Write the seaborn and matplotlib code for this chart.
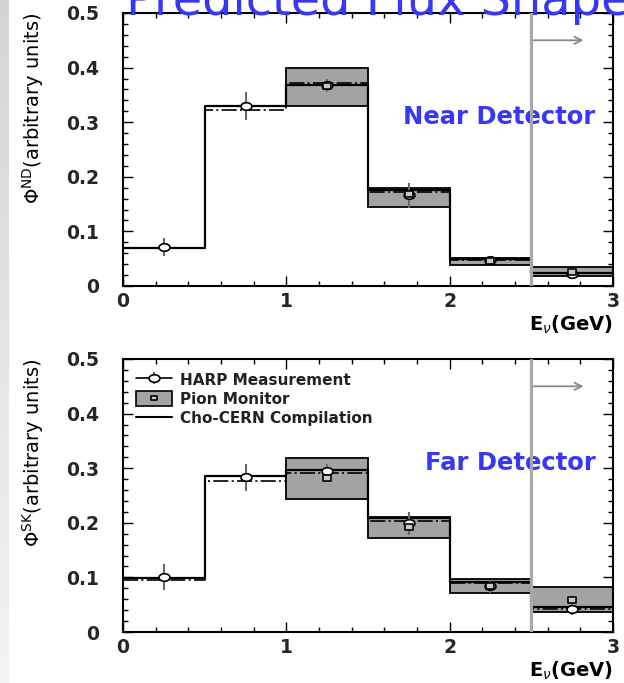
import numpy as np
import pandas as pd
import matplotlib
matplotlib.use("Agg")
import matplotlib.pyplot as plt
import seaborn as sns
from matplotlib.path import Path
from matplotlib.lines import Line2D
from matplotlib.patches import Patch
from matplotlib.legend_handler import HandlerTuple
from matplotlib.ticker import MultipleLocator

# ---------------------------------------------------------------- data
bin_edges = [0.0, 0.5, 1.0, 1.5, 2.0, 2.5, 3.0]

# Near detector (ND)
nd_harp = [0.071, 0.330, 0.368, 0.166, 0.047, 0.022]
nd_harp_err = [0.016, 0.026, 0.012, 0.023, 0.008, 0.006]
nd_harp_flux = [0.069, 0.322, 0.372, 0.172, 0.048, 0.023]
nd_cho = [0.070, 0.330, 0.369, 0.176, 0.050, 0.024]
nd_pion = [np.nan, np.nan, 0.366, 0.168, 0.046, 0.026]
nd_pion_lo = [np.nan, np.nan, 0.330, 0.145, 0.039, 0.018]
nd_pion_hi = [np.nan, np.nan, 0.400, 0.179, 0.052, 0.035]

# Far detector (SK)
sk_harp = [0.101, 0.283, 0.295, 0.199, 0.084, 0.043]
sk_harp_err = [0.024, 0.024, 0.012, 0.021, 0.012, 0.012]
sk_harp_flux = [0.096, 0.276, 0.292, 0.204, 0.089, 0.043]
sk_cho = [0.098, 0.285, 0.296, 0.208, 0.092, 0.045]
sk_pion = [np.nan, np.nan, 0.282, 0.192, 0.084, 0.059]
sk_pion_lo = [np.nan, np.nan, 0.244, 0.172, 0.071, 0.036]
sk_pion_hi = [np.nan, np.nan, 0.319, 0.211, 0.097, 0.083]

x_ticks = [0, 1, 2, 3]
x_tick_labels = ["0", "1", "2", "3"]
y_ticks = [0.0, 0.1, 0.2, 0.3, 0.4, 0.5]
y_tick_labels = ["0", "0.1", "0.2", "0.3", "0.4", "0.5"]

title = "Predicted Flux Shape"
legend_labels = ["HARP Measurement", "Pion Monitor", "Cho-CERN Compilation"]
cut_energy = 2.5

# ---------------------------------------------------------------- style
sns.set_theme(style="ticks")
plt.rcParams["font.family"] = ["DejaVu Sans"]
plt.rcParams["mathtext.fontset"] = "dejavusans"
plt.rcParams["axes.linewidth"] = 1.5

BLUE = "#3838f4"
BOX_GREY = "#a3a3a3"

# horizontally elongated marker shapes
_t = np.linspace(0, 2 * np.pi, 60)
ellipse = Path(np.column_stack([1.45 * np.cos(_t), np.sin(_t)]), closed=True)
rect = Path([(-1.4, -1), (1.4, -1), (1.4, 1), (-1.4, 1), (-1.4, -1)], closed=True)

fig = plt.figure(figsize=(6.24, 6.83), dpi=100)

# soft grey strip down the left edge
ax_bg = fig.add_axes([0, 0, 9 / 624, 1], zorder=-5)
ax_bg.imshow(np.linspace(0.83, 0.95, 100).reshape(-1, 1), cmap="gray",
             vmin=0, vmax=1, aspect="auto")
ax_bg.axis("off")

ax_nd = fig.add_axes([123 / 624, (683 - 286) / 683, 490 / 624, 273 / 683])
ax_sk = fig.add_axes([123 / 624, (683 - 632) / 683, 490 / 624, 273 / 683])

edges = np.array(bin_edges)
centers = 0.5 * (edges[:-1] + edges[1:])
widths = np.diff(edges)


def draw_panel(ax, harp, harp_err, harp_flux, cho, pion, pion_lo, pion_hi,
               ylabel, tag):
    steps = pd.DataFrame({
        "E": np.concatenate([edges, edges]),
        "phi": np.concatenate([harp_flux + [harp_flux[-1]], cho + [cho[-1]]]),
        "set": ["harp"] * len(edges) + ["cho"] * len(edges),
    })
    pts = pd.DataFrame({"E": centers, "phi": harp, "err": harp_err,
                        "pion": pion, "lo": pion_lo, "hi": pion_hi})

    # pion monitor bands
    band = pts.dropna()
    ax.bar(band["E"], band["hi"] - band["lo"], bottom=band["lo"],
           width=widths[: len(band)], color=BOX_GREY, edgecolor="black",
           linewidth=1.3, zorder=1)

    # flux histograms
    sns.lineplot(data=steps[steps["set"] == "cho"], x="E", y="phi", ax=ax,
                 drawstyle="steps-post", color="black", linewidth=1.6,
                 estimator=None, sort=False, zorder=2)
    sns.lineplot(data=steps[steps["set"] == "harp"], x="E", y="phi", ax=ax,
                 drawstyle="steps-post", color="black", linewidth=1.2,
                 linestyle=(0, (9, 2, 1.2, 2)), estimator=None, sort=False,
                 zorder=2)

    # HARP points
    ax.errorbar(pts["E"], pts["phi"], yerr=pts["err"], fmt="none",
                ecolor="#6a6a6a", elinewidth=1.5, capsize=0, zorder=4)
    sns.scatterplot(data=pts, x="E", y="phi", ax=ax, marker=ellipse, s=62,
                    color="white", edgecolor="black", linewidth=1.2, zorder=5)
    # pion monitor central values
    sns.scatterplot(data=band, x="E", y="pion", ax=ax, marker=rect, s=26,
                    color="#c8c8c8", edgecolor="black", linewidth=1.2, zorder=6)

    # energy cut and direction arrow
    ax.axvline(cut_energy, color="#a8a8a8", linewidth=2.3, zorder=7)
    ax.annotate("", xy=(2.82, 0.450), xytext=(cut_energy + 0.015, 0.450),
                arrowprops=dict(arrowstyle="->", color="#8a8a8a", lw=1.3,
                                shrinkA=0, shrinkB=0, mutation_scale=13),
                zorder=7)

    ax.text(2.893, 0.310, tag, ha="right", va="center", fontsize=17.5,
            fontweight="bold", color=BLUE, zorder=3)

    ax.set_xlim(0, 3)
    ax.set_ylim(0, 0.5)
    ax.set_xticks(x_ticks, x_tick_labels, fontweight="bold", fontsize=13.5)
    ax.set_yticks(y_ticks, y_tick_labels, fontweight="bold", fontsize=13.5)
    ax.xaxis.set_minor_locator(MultipleLocator(0.2))
    ax.yaxis.set_minor_locator(MultipleLocator(0.02))
    ax.tick_params(which="both", direction="in", top=True, right=True,
                   color="black", width=1.0)
    ax.tick_params(which="major", length=7)
    ax.tick_params(which="minor", length=3.6)
    ax.tick_params(axis="x", pad=4.5)
    ax.tick_params(axis="y", pad=17)
    for s in ax.spines.values():
        s.set_color("black")
        s.set_linewidth(1.5)

    ax.set_xlabel(r"E$_{\nu}$(GeV)", loc="right", fontweight="bold",
                  fontsize=14, labelpad=2, color="black")
    ax.set_ylabel(ylabel, loc="top", fontsize=14, color="black")
    ax.yaxis.set_label_coords(-0.184, 1.0)
    ax.yaxis.label.set_va("center")


draw_panel(ax_nd, nd_harp, nd_harp_err, nd_harp_flux, nd_cho, nd_pion,
           nd_pion_lo, nd_pion_hi, r"$\Phi^{\rm ND}$(arbitrary units)",
           "Near Detector")
draw_panel(ax_sk, sk_harp, sk_harp_err, sk_harp_flux, sk_cho, sk_pion,
           sk_pion_lo, sk_pion_hi, r"$\Phi^{\rm SK}$(arbitrary units)",
           "Far Detector")

# legend on the far-detector panel
h_harp = (Line2D([], [], color="#6a6a6a", marker="|", markersize=9,
                 markeredgewidth=1.5, linestyle="None"),
          Line2D([], [], color="black", linewidth=1.2, marker=ellipse,
                 markersize=7.8, markerfacecolor="white",
                 markeredgecolor="black", markeredgewidth=1.2))
h_pion = (Patch(facecolor=BOX_GREY, edgecolor="black", linewidth=1.2),
          Line2D([], [], linestyle="None", marker=rect, markersize=5,
                 markerfacecolor="#c8c8c8", markeredgecolor="black",
                 markeredgewidth=1.2))
h_cho = Line2D([], [], color="black", linewidth=1.5)
leg = ax_sk.legend([h_harp, h_pion, h_cho], legend_labels,
                   handler_map={tuple: HandlerTuple(ndivide=1, pad=0)},
                   loc="upper left", bbox_to_anchor=(0.027, 0.952),
                   frameon=False, borderpad=0, borderaxespad=0,
                   handlelength=2.35, handleheight=1.1, handletextpad=0.5,
                   labelspacing=0.24,
                   prop={"size": 11, "weight": "bold"})
for t in leg.get_texts():
    t.set_color("#222222")

fig.text(126 / 624, (683 - 15) / 683, title, ha="left", va="baseline",
         fontsize=34.5, color=BLUE, zorder=10)

fig.savefig("out.png", dpi=100)
